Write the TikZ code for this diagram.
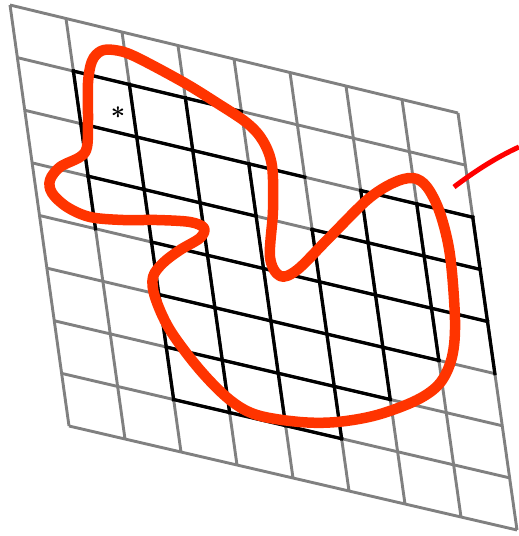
\documentclass[tikz,border=0pt]{standalone}
\usepackage{bm}
\begin{document}
\begin{tikzpicture}[x=1pt,y=-1pt,
  gridgray/.style={draw={rgb,255:red,128;green,128;blue,128}, line width=2.9pt},
  gridblack/.style={draw=black, line width=3.3pt, line cap=rect},
  curvered/.style={draw={rgb,255:red,255;green,52;blue,0}, line width=10.5pt, line join=round},
  linered/.style={draw={rgb,255:red,255;green,0;blue,0}, line width=5pt}]
\useasboundingbox (0,0) rectangle (519,536);
% grid vertices (bilinear quadrilateral)
\foreach \i in {0,...,8}{
  \foreach \j in {0,...,8}{
    \pgfmathsetmacro\px{10+56*\i+7.375*\j}
    \pgfmathsetmacro\py{5+13.5*\i+52.625*\j-0.0625*\i*\j}
    \coordinate (v\i-\j) at (\px,\py);
  }
}
% gray grid
\foreach \k in {0,...,8}{
  \draw[gridgray] (v\k-0) -- (v\k-8);
  \draw[gridgray] (v0-\k) -- (v8-\k);
}
% black horizontal segments: row / from column / to column
\foreach \r/\a/\b in {1/1/4, 2/1/5, 2/6/8, 3/1/4, 3/5/8, 4/2/8, 5/2/7, 6/2/6, 7/2/5}{
  \draw[gridblack] (v\a-\r) -- (v\b-\r);
}
% black vertical segments: column / from row / to row
\foreach \c/\a/\b in {1/1/4, 2/1/7, 3/1/7, 4/2/7, 5/3/7, 6/2/6, 7/2/5, 8/2/5}{
  \draw[gridblack] (v\c-\a) -- (v\c-\b);
}
% red closed curve
\draw[curvered] plot[smooth cycle, tension=0.55] coordinates {
  (88,83) (92,61) (101,51) (114,50) (134,56) (183,82) (217,103) (247,123)
  (263,141) (272,166) (273,210) (270,257) (280,276) (297,270) (327,240)
  (367,200) (393,183) (413,178) (427,187) (440,213) (450,255) (455,320)
  (452,357) (440,383) (417,400) (377,415) (337,422) (300,422) (257,415)
  (230,400) (200,370) (170,330) (155,297) (153,277) (163,263) (180,250)
  (200,238) (204,228) (190,222) (157,220) (123,220) (90,217) (67,207)
  (52,193) (50,180) (60,167) (80,157) (87,147) (88,120)};
% red short line
\coordinate (ra) at (454,187);
\coordinate (rb) at (519,147);
\draw[linered] (ra) .. controls (475,171) and (497,157) .. (rb);
% asterisk
\node[font=\fontsize{30}{30}\selectfont, inner sep=0pt] (star) at (118,113) {$\bm{\ast}$};
\end{tikzpicture}
\end{document}
